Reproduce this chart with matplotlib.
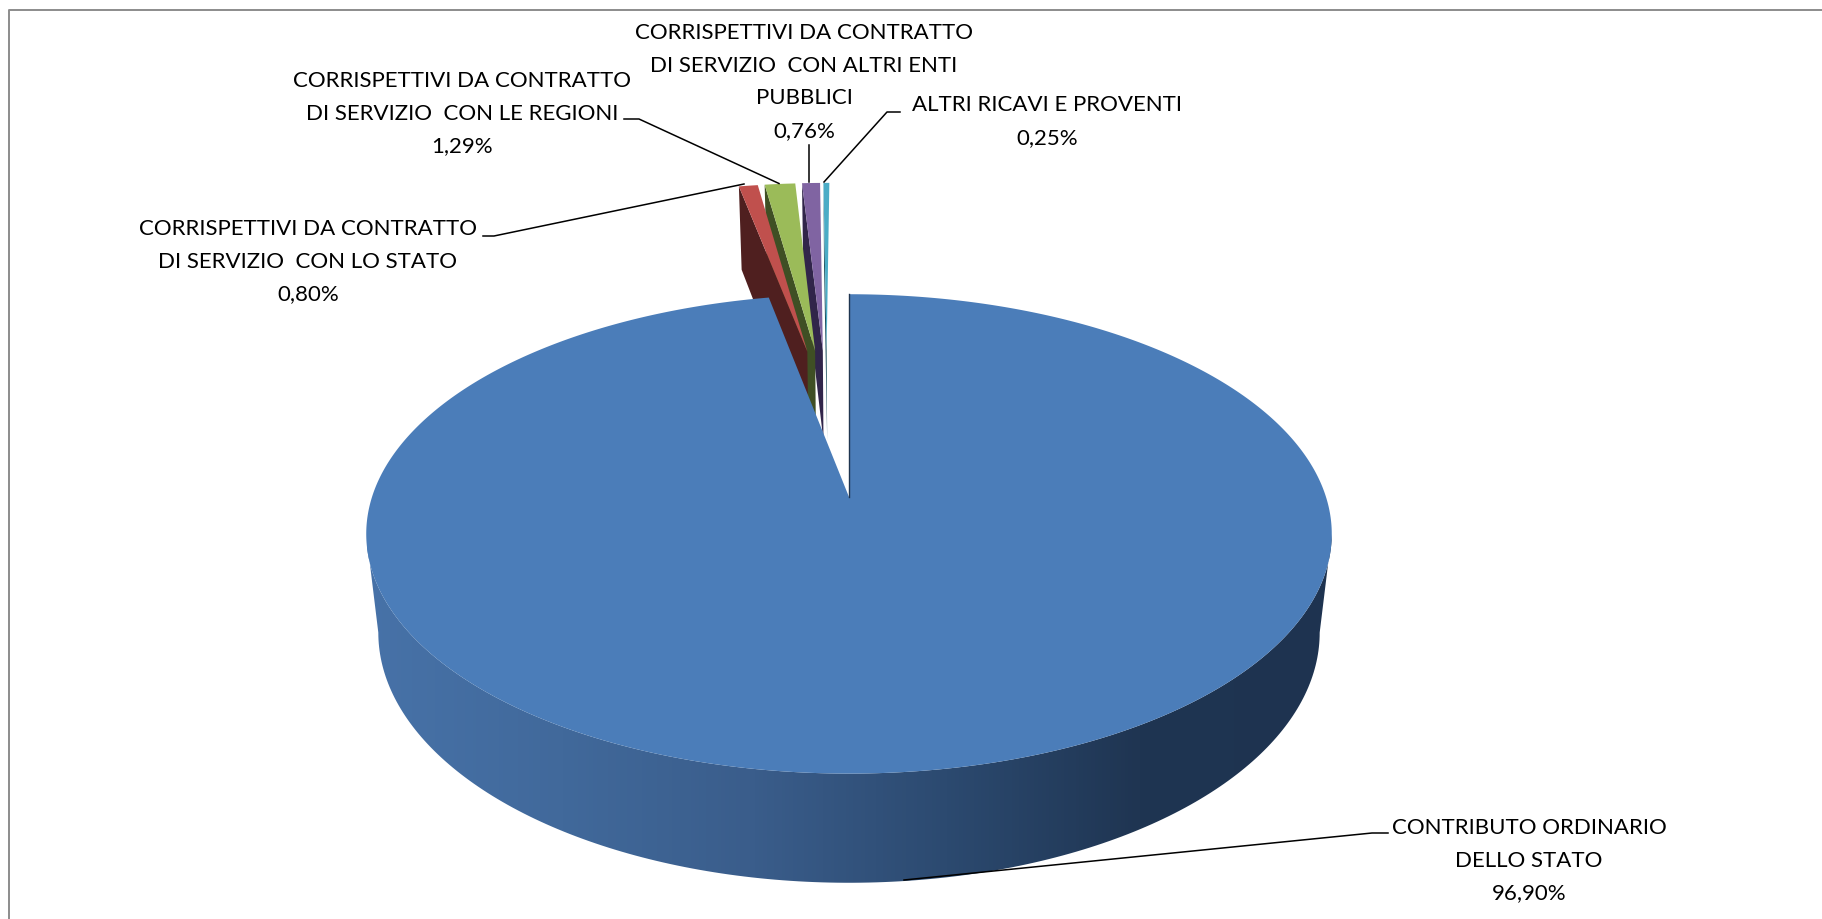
import numpy as np
import matplotlib
matplotlib.use('Agg')
import matplotlib.pyplot as plt
from matplotlib.colors import LinearSegmentedColormap
from matplotlib.patches import Polygon

plt.rcParams['font.family'] = ['Lato', 'DejaVu Sans']

# data, clockwise from 12 o'clock
labels = ['CONTRIBUTO ORDINARIO\nDELLO STATO',
          'CORRISPETTIVI DA CONTRATTO\nDI SERVIZIO  CON LO STATO',
          'CORRISPETTIVI DA CONTRATTO\nDI SERVIZIO  CON LE REGIONI',
          'CORRISPETTIVI DA CONTRATTO\nDI SERVIZIO  CON ALTRI ENTI\nPUBBLICI',
          'ALTRI RICAVI E PROVENTI']
values = [96.90, 0.80, 1.29, 0.76, 0.25]

top_colors = ['#4b7db9', '#c0504d', '#9bbb59', '#8064a2', '#4bacc6']
wall_colors = ['#1f3550', '#4f1f1f', '#3f4f24', '#31254a', '#1d4f5c']

# label centre (first line) and leader line, all in pixels
label_x = [1529, 308, 462, 804, 1047]
label_y = [826, 227, 79, 31, 103]
leaders = [[(1388, 833), (1372, 833), (904, 880)],
           [(483, 236), (494, 236), (744, 184)],
           [(624, 119), (639, 119), (779, 183.5)],
           [(809, 145), (809, 182)],
           [(900, 112), (887, 112), (824, 182)]]
LINE_STEP = 32.7

# perspective of the pie
CX, CY = 849, 497
R, H, K = 477, 234, 0.154
DEPTH = 97
EXPLODE = 0.347
SPREAD = 0.8       # small slices sit a bit closer together than a true explode
SHIFT = 0.016


def project(x, y, z=0.0):
    x = np.asarray(x, dtype=float)
    y = np.asarray(y, dtype=float)
    z = np.asarray(z, dtype=float)
    d = 1 + K * y
    sx = CX + R * (1 - 0.025 * z) * x / d
    sy = CY + DEPTH * z - H * (1 + 0.044 * z) * y / d
    return np.column_stack([sx, sy])


def wedge(a0, a1, ox, oy, z=0.0):
    # angles in degrees clockwise from the top
    a = np.radians(np.linspace(a0, a1, max(int(a1 - a0) * 2, 4)))
    xs = np.r_[ox, ox + np.sin(a)]
    ys = np.r_[oy, oy + np.cos(a)]
    return project(xs, ys, z)


fig = plt.figure(figsize=(18.22, 9.19), dpi=100)
ax = fig.add_axes([0, 0, 1, 1])

angles = np.r_[0, np.cumsum(values)] * 3.6
mid0 = np.radians((angles[0] + angles[1]) / 2)
# the blue apex is the reference point of the projection
bx, by = EXPLODE * np.sin(mid0), EXPLODE * np.cos(mid0)

# small exploded slices at the back: walls right to left, then the tops
origins = {}
for i in range(1, len(values)):
    mid = np.radians((angles[i] + angles[i + 1]) / 2)
    origins[i] = (EXPLODE * SPREAD * np.sin(mid) - bx - SHIFT,
                  EXPLODE * np.cos(mid) - by)

for i in range(len(values) - 1, 0, -1):
    ox, oy = origins[i]
    r0 = np.radians(angles[i])
    wall = project([ox, ox + np.sin(r0), ox + np.sin(r0), ox],
                   [oy, oy + np.cos(r0), oy + np.cos(r0), oy],
                   [0, 0, 1, 1])
    ax.add_patch(Polygon(wall, closed=True, fc=wall_colors[i], ec='none'))

for i in range(1, len(values)):
    ox, oy = origins[i]
    ax.fill(*wedge(angles[i], angles[i + 1], ox, oy).T, fc=top_colors[i], ec='none')

# side of the big slice, with the shading running left to right
t = np.radians(np.linspace(180 + 8.86, 360 - 8.86, 200))
side = np.vstack([project(np.cos(t), np.sin(t), 0),
                  project(np.cos(t), np.sin(t), 1)[::-1]])
shade = LinearSegmentedColormap.from_list(
    'side', ['#4772a8', '#41699b', '#3a5d8b', '#2c4a70', '#1f3552', '#1e3350'])
img = ax.imshow(np.linspace(0, 1, 256)[None, :], cmap=shade, aspect='auto',
                extent=(367, 1332, 919, 0))
img.set_clip_path(Polygon(side, closed=True, transform=ax.transData))

# thin cut face on the right of the gap
ax.plot(*project([0, 0], [0, 1]).T, color=wall_colors[0], lw=1)
ax.fill(*wedge(angles[0], angles[1], 0, 0).T, fc=top_colors[0], ec='none')

# leader lines and labels, one text per line so each sits on its own baseline
for i, name in enumerate(labels):
    pts = np.array(leaders[i])
    ax.plot(pts[:, 0], pts[:, 1], color='black', lw=1.1)
    pct = f'{values[i]:.2f}%'.replace('.', ',')
    for j, line in enumerate(name.split('\n') + [pct]):
        ax.text(label_x[i], label_y[i] + 8 + j * LINE_STEP, line, ha='center',
                va='baseline', fontsize=16, color='black')

# chart border
ax.plot([9, 9, 1822], [919, 10, 10], color='#8c8c8c', lw=1.4)

ax.set_xlim(0, 1822)
ax.set_ylim(919, 0)
ax.axis('off')
fig.savefig('out.png', dpi=100, facecolor='white')
